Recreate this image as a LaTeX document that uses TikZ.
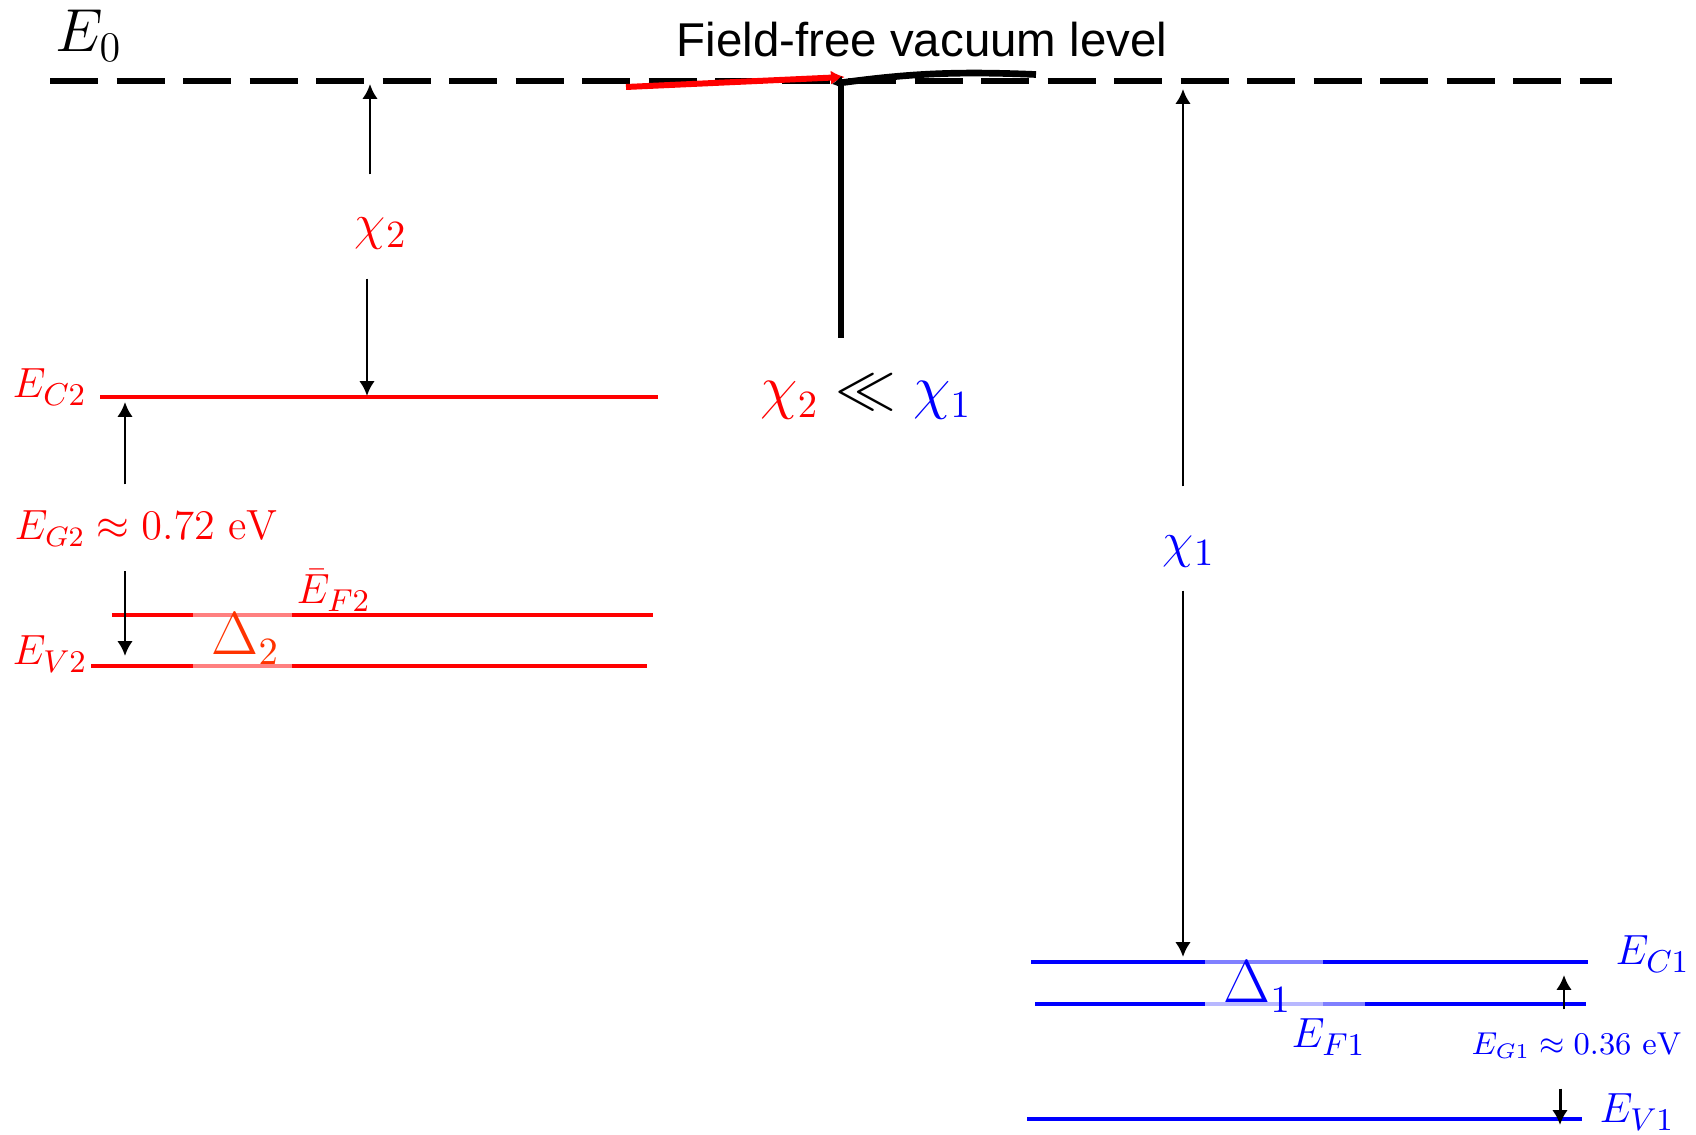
\documentclass[tikz,border=0pt]{standalone}
\usepackage{fontspec}
\usepackage{tikz}
\usetikzlibrary{arrows.meta,calc}
\newfontfamily\labelsans{Liberation Sans}
\definecolor{bandred}{HTML}{FF0000}
\definecolor{bandblue}{HTML}{0000FF}
\definecolor{deltared}{HTML}{FF3300}
\tikzset{
  % --- band levels ---
  level/.style={line width=1.4pt},
  redlevel/.style={level, draw=bandred},
  bluelevel/.style={level, draw=bandblue},
  vacuum/.style={line width=1.5pt, dash pattern=on 4.8mm off 1.85mm},
  % --- gap arrows and their labels ---
  gaparrow/.style={-{Latex[length=4.2pt,width=4.4pt]}, line width=0.85pt},
  gaplbl/.style={inner sep=0pt, anchor=base, font=\fontsize{15}{18}\selectfont},
  % --- level labels ---
  lvllbl/.style={inner sep=0pt, anchor=base west, font=\fontsize{13}{16}\selectfont},
  deltalbl/.style={lvllbl, font=\fontsize{16}{19}\selectfont},
}

\begin{document}
\begin{tikzpicture}
  \useasboundingbox (0,0) rectangle (16.96,-11.35);

  % field-free vacuum level
  \coordinate (vacL) at (0.50,-0.81);
  \coordinate (vacR) at (16.12,-0.81);
  \draw[vacuum] (vacL) -- (vacR);
  \node[lvllbl, font=\fontsize{18}{21}\selectfont] (E0) at (0.55,-0.52) {$E_0$};
  \node[lvllbl, font={\labelsans\fontsize{13.5}{16}\selectfont}] (vac) at (6.76,-0.57) {Field-free vacuum level};

  % the two strokes lying on the vacuum level, and the stem
  \coordinate (redA) at (6.26,-0.87);
  \coordinate (redB) at (8.45,-0.77);
  \draw[draw=bandred, line width=1.7pt, -{Latex[length=4pt,width=4pt]}] (redA) -- (redB);
  \coordinate (blkA) at (10.36,-0.745);
  \coordinate (blkB) at (8.32,-0.84);
  \draw[line width=1.9pt, -{Latex[length=3pt,width=4pt]}] (blkA) to[bend right=5] (blkB);
  \coordinate (stemT) at (8.41,-0.81);
  \coordinate (stemB) at (8.41,-3.38);
  \draw[line width=1.7pt] (stemT) -- (stemB);
  \node[lvllbl, font=\fontsize{16}{19}\selectfont] (rel) at (7.60,-4.08)
    {${\color{bandred}\chi_2} \ll {\color{bandblue}\chi_1}$};

  % material 2 (red)
  \coordinate (C2l) at (1.00,-3.97); \coordinate (C2r) at (6.58,-3.97);
  \coordinate (F2l) at (1.12,-6.15); \coordinate (F2r) at (6.53,-6.15);
  \coordinate (V2l) at (0.91,-6.66); \coordinate (V2r) at (6.47,-6.66);
  \draw[redlevel] (C2l) -- (C2r);
  \draw[redlevel] (F2l) -- (F2r);
  \draw[redlevel] (V2l) -- (V2r);
  \draw[level, draw=bandred!50] (1.93,-6.15) -- (2.92,-6.15);
  \draw[level, draw=bandred!50] (1.93,-6.66) -- (2.92,-6.66);

  \node[lvllbl, text=bandred] (EC2) at (0.12,-3.98) {$E_{C2}$};
  \node[lvllbl, text=bandred] (EF2) at (2.96,-6.04) {$\bar{E}_{F2}$};
  \node[lvllbl, text=bandred] (EV2) at (0.12,-6.65) {$E_{V2}$};
  \node[deltalbl, text=deltared] (D2) at (2.11,-6.55) {$\Delta_2$};
  \node[lvllbl, text=bandred, font=\fontsize{12}{14}\selectfont,
        text height=5.5mm] (EG2) at (0.14,-5.40) {$E_{G2} \approx 0.72~\mathrm{eV}$};

  \coordinate (eg2top) at (1.25,-4.02);
  \coordinate (eg2bot) at (1.25,-6.56);
  \draw[gaparrow] (EG2.north -| eg2top) -- (eg2top);
  \draw[gaparrow, shorten <=2.4mm] (EG2.south -| eg2bot) -- (eg2bot);

  \coordinate (chi2top) at (3.70,-0.84);
  \coordinate (chi2bot) at (3.67,-3.96);
  \node[gaplbl, text=bandred, text height=6.5mm, text depth=3.8mm] (chi2) at (3.81,-2.40) {$\chi_2$};
  \draw[gaparrow] (chi2.north -| chi2top) -- (chi2top);
  \draw[gaparrow] (chi2.south -| chi2bot) -- (chi2bot);

  % material 1 (blue)
  \coordinate (C1l) at (10.31,-9.62); \coordinate (C1r) at (15.88,-9.62);
  \coordinate (F1l) at (10.35,-10.04); \coordinate (F1r) at (15.86,-10.04);
  \coordinate (V1l) at (10.27,-11.19); \coordinate (V1r) at (15.82,-11.19);
  \draw[bluelevel] (C1l) -- (C1r);
  \draw[bluelevel] (F1l) -- (F1r);
  \draw[bluelevel] (V1l) -- (V1r);
  \draw[level, draw=bandblue!50] (12.05,-9.62) -- (13.23,-9.62);
  \draw[level, draw=bandblue!28] (12.05,-10.04) -- (13.23,-10.04);
  \draw[level, draw=bandblue!50] (13.23,-10.04) -- (13.65,-10.04);

  \node[lvllbl, text=bandblue] (EC1) at (16.15,-9.65) {$E_{C1}$};
  \node[deltalbl, text=bandblue] (D1) at (12.23,-10.03) {$\Delta_1$};
  \node[lvllbl, text=bandblue] (EF1) at (12.91,-10.48) {$E_{F1}$};
  \node[lvllbl, text=bandblue] (EV1) at (15.99,-11.23) {$E_{V1}$};
  \node[lvllbl, text=bandblue, font=\fontsize{9}{11}\selectfont,
        text height=4.5mm, text depth=3.3mm] (EG1) at (14.71,-10.55) {$E_{G1} \approx 0.36~\mathrm{eV}$};

  \coordinate (eg1top) at (15.64,-9.75);
  \coordinate (eg1bot) at (15.60,-11.25);
  \draw[gaparrow] (EG1.north -| eg1top) -- (eg1top);
  \draw[gaparrow] (EG1.south -| eg1bot) -- (eg1bot);

  \coordinate (chi1top) at (11.83,-0.89);
  \coordinate (chi1bot) at (11.83,-9.57);
  \node[gaplbl, text=bandblue, text height=7.1mm, text depth=3.2mm] (chi1) at (11.89,-5.58) {$\chi_1$};
  \draw[gaparrow] (chi1.north -| chi1top) -- (chi1top);
  \draw[gaparrow] (chi1.south -| chi1bot) -- (chi1bot);
\end{tikzpicture}
\end{document}
